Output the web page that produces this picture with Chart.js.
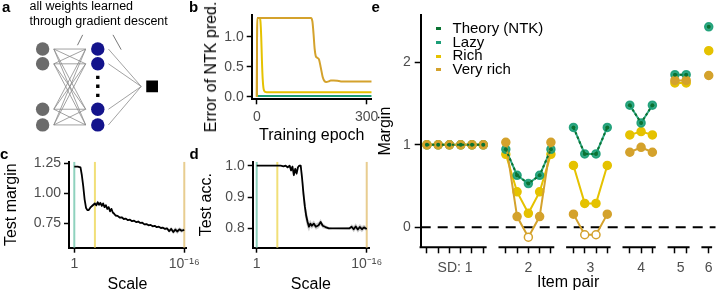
<!DOCTYPE html>
<html>
<head>
<meta charset="utf-8">
<script src="https://cdn.jsdelivr.net/npm/chart.js@4.4.1/dist/chart.umd.min.js"></script>
<style>
  body { margin: 0; background: #fff; }
  #fig { position: relative; width: 721px; height: 294px; overflow: hidden; font-family: 'Liberation Sans', Arial, sans-serif; }
  #fig canvas { position: absolute; }
  .lab { position: absolute; font-weight: bold; font-size: 15px; line-height: 15px; }
  .note { position: absolute; left: 29.5px; top: -1.5px; font-size: 12.5px; line-height: 15.7px; color: #000; white-space: nowrap; }
  .ytitle { position: absolute; font-size: 16px; line-height: 16px; white-space: nowrap; transform: translate(-50%, -50%) rotate(-90deg); }
  .leg { position: absolute; left: 452.5px; font-size: 15px; line-height: 13.8px; white-space: nowrap; }
  .mk { position: absolute; left: 436px; width: 4.5px; height: 3px; }
</style>
</head>
<body>
<div id="fig">
  <canvas id="pa" width="185" height="145" style="left:0;top:0"></canvas>
  <canvas id="pb" width="200" height="145" style="left:185px;top:0"></canvas>
  <canvas id="pc" width="210" height="149" style="left:0;top:145px"></canvas>
  <canvas id="pd" width="200" height="149" style="left:190px;top:145px"></canvas>
  <canvas id="pe" width="351" height="294" style="left:370px;top:0"></canvas>

  <div class="lab" style="left:2px;top:-1px">a</div>
  <div class="lab" style="left:189px;top:-1px">b</div>
  <div class="lab" style="left:0px;top:145.5px">c</div>
  <div class="lab" style="left:189.5px;top:145.5px">d</div>
  <div class="lab" style="left:371.5px;top:-1px">e</div>

  <div class="note">all weights learned<br>through gradient descent</div>
  <div class="ytitle" style="left:211px;top:67px">Error of NTK pred.</div>

  <div class="mk" id="mk0" style="top:27px"></div>
  <div class="mk" id="mk1" style="top:40.8px"></div>
  <div class="mk" id="mk2" style="top:54.6px"></div>
  <div class="mk" id="mk3" style="top:68.4px"></div>
  <div class="leg" id="lg0" style="top:20.8px"></div>
  <div class="leg" id="lg1" style="top:34.6px"></div>
  <div class="leg" id="lg2" style="top:48.4px"></div>
  <div class="leg" id="lg3" style="top:62.2px"></div>
</div>

<script>
// ---- data ----

// regimes (shared by b, c, d, e)
const regimeNames = ['Theory (NTK)', 'Lazy', 'Rich', 'Very rich'];
const regimeColors = ['#0a7232', '#1b9e77', '#e5c200', '#d4a22c'];
const regimePale = ['#8fd2be', '#f1df78', '#e8cd90']; // lazy, rich, very rich marker lines
const regimeScaleExp = [0, 3, 16]; // initial scale = 10^-exp

// b: error of NTK prediction during training
const epochLazy = [0, 314];
const errLazy = [0.01, 0.01];
const epochRich = [0, 1, 8, 10, 12, 14, 16, 18, 20, 23, 27, 314];
const errRich = [0, 1.31, 1.31, 1.25, 1.0, 0.6, 0.3, 0.15, 0.1, 0.08, 0.075, 0.075];
const epochVeryRich = [0, 1, 148, 152, 155, 158, 161, 165, 170, 175, 180, 185, 190, 196, 202, 210, 220, 230, 314];
const errVeryRich = [0, 1.31, 1.31, 1.25, 1.05, 0.8, 0.68, 0.65, 0.62, 0.48, 0.33, 0.26, 0.245, 0.255, 0.27, 0.27, 0.265, 0.255, 0.255];

// c: test margin vs scale (exponent of 10^-x)
const scaleExpC = [0, 0.5, 0.9, 1.1, 1.3, 1.5, 1.7, 1.9, 2.1, 2.4, 2.7, 3.0, 3.2, 3.4, 3.6, 3.8, 4.0, 4.2, 4.4, 4.6,
  4.8, 5.0, 5.2, 5.4, 5.6, 5.8, 6.0, 6.3, 6.6, 6.9, 7.2, 7.5, 7.8, 8.1, 8.4, 8.7, 9.0, 9.3, 9.6, 9.9,
  10.2, 10.5, 10.8, 11.1, 11.4, 11.7, 12.0, 12.3, 12.6, 12.9, 13.2, 13.5, 13.8, 14.1, 14.4, 14.7, 15.0, 15.3, 15.6, 16.0];
const marginC = [1.222, 1.222, 1.215, 1.15, 1.06, 0.95, 0.88, 0.86, 0.86, 0.885, 0.9, 0.915, 0.9, 0.925, 0.905, 0.92, 0.895, 0.915, 0.885, 0.9,
  0.87, 0.885, 0.85, 0.87, 0.84, 0.83, 0.815, 0.812, 0.798, 0.8, 0.786, 0.789, 0.776, 0.78, 0.768, 0.772, 0.76, 0.765, 0.753, 0.755,
  0.741, 0.744, 0.733, 0.737, 0.725, 0.729, 0.718, 0.722, 0.711, 0.714, 0.703, 0.707, 0.685, 0.703, 0.678, 0.698, 0.682, 0.7, 0.688, 0.695];
const spreadC = [0, 0, 0, 0, 0, 0, 0.004, 0.006, 0.008, 0.01, 0.012, 0.014, 0.012, 0.014, 0.012, 0.014, 0.012, 0.014, 0.012, 0.012,
  0.012, 0.012, 0.01, 0.01, 0.01, 0.008, 0.008, 0.006, 0.006, 0.006, 0.006, 0.006, 0.006, 0.006, 0.006, 0.006, 0.006, 0.006, 0.006, 0.006,
  0.006, 0.006, 0.006, 0.006, 0.006, 0.006, 0.006, 0.006, 0.008, 0.008, 0.01, 0.012, 0.016, 0.018, 0.02, 0.02, 0.02, 0.018, 0.016, 0.012];

// d: test accuracy vs scale
const scaleExpD = [0, 3.5, 3.9, 4.2, 4.5, 4.8, 5.0, 5.2, 5.4, 5.6, 5.8, 6.0, 6.2, 6.4, 6.6, 6.8, 7.0, 7.2, 7.4, 7.6,
  7.8, 8.0, 8.3, 8.6, 9.0, 9.3, 9.6, 10.0, 10.5, 11.0, 13.5, 13.8, 14.1, 14.4, 14.7, 15.0, 15.3, 15.6, 16.0];
const accD = [1.0, 1.0, 0.998, 1.0, 0.995, 1.0, 0.985, 0.997, 0.97, 0.99, 0.975, 0.995, 1.0, 1.0, 0.96, 0.91, 0.87, 0.84, 0.82, 0.805,
  0.815, 0.808, 0.815, 0.805, 0.81, 0.82, 0.808, 0.804, 0.8, 0.8, 0.8, 0.805, 0.797, 0.806, 0.796, 0.804, 0.797, 0.803, 0.798];
const spreadD = [0, 0, 0.002, 0.002, 0.004, 0.004, 0.006, 0.006, 0.008, 0.006, 0.006, 0.004, 0.002, 0.004, 0.02, 0.03, 0.03, 0.025, 0.02, 0.015,
  0.012, 0.01, 0.01, 0.01, 0.01, 0.01, 0.008, 0.006, 0.004, 0.002, 0.004, 0.008, 0.01, 0.01, 0.01, 0.01, 0.01, 0.008, 0.006];

// e: margin per item pair, grouped by SD
const groupLabels = ['SD: 1', '2', '3', '4', '5', '6'];
const groupSizes = [6, 5, 4, 3, 2, 1];
const marginTheory   = [1, 1, 1, 1, 1, 1,  0.945, 0.63, 0.53, 0.63, 0.945,  1.21, 0.89, 0.89, 1.21,  1.48, 1.265, 1.48,  1.85, 1.85,  2.43];
const marginLazy     = [1, 1, 1, 1, 1, 1,  0.945, 0.63, 0.53, 0.63, 0.945,  1.21, 0.89, 0.89, 1.21,  1.48, 1.265, 1.48,  1.85, 1.85,  2.43];
const marginRich     = [1, 1, 1, 1, 1, 1,  0.885, 0.43, 0.17, 0.43, 0.885,  0.75, 0.29, 0.29, 0.75,  1.12, 1.16, 1.12,  1.75, 1.75,  2.14];
const marginVeryRich = [1, 1, 1, 1, 1, 1,  1.03, 0.13, -0.12, 0.13, 1.03,  0.16, -0.09, -0.09, 0.16,  0.91, 0.97, 0.91,  1.78, 1.78,  1.84];

// ---- helpers ----
const FONT = "'Liberation Sans', Arial, sans-serif";
Chart.defaults.animation = false;
Chart.defaults.font.family = FONT;

function pts(xs, ys) { return xs.map((x, i) => ({ x: x, y: ys[i] })); }
function fromExp(d) { return Math.pow(10, -d); }

function axis(o) {
  return {
    type: o.type || 'linear', min: o.min, max: o.max, reverse: !!o.reverse, display: o.display !== false,
    afterBuildTicks: s => { s.ticks = o.ticks.map(v => ({ value: v })); },
    afterFit: s => {
      if (o.width != null) s.width = o.width;
      if (o.height != null) s.height = o.height;
      s.paddingLeft = s.paddingRight = s.paddingTop = s.paddingBottom = 0;
    },
    border: { display: o.border !== false, color: '#000', width: 2 },
    grid: { drawOnChartArea: false, drawTicks: true, tickLength: o.tickLen || 5, tickWidth: 1.5, tickColor: o.tickColor || '#000' },
    ticks: { color: '#4d4d4d', font: { family: FONT, size: 14 }, padding: o.pad != null ? o.pad : 3,
      autoSkip: false, maxRotation: 0, minRotation: 0, callback: o.fmt },
    title: { display: !!o.title, text: o.title, color: '#000', font: { family: FONT, size: 16 }, padding: o.titlePad || 0 }
  };
}

function baseOpts(pad, scales) {
  return {
    responsive: false, devicePixelRatio: 1, animation: false, events: [],
    layout: { padding: pad },
    plugins: { legend: { display: false }, tooltip: { enabled: false } },
    scales: scales
  };
}

function lineDs(data, color, width, extra) {
  return Object.assign({ data: data, borderColor: color, backgroundColor: color, borderWidth: width,
    pointRadius: 0, tension: 0, fill: false, borderJoinStyle: 'round' }, extra || {});
}

// ---- a: network diagram ----
const layerX = [37.7, 98.3, 158];
const nodeRows = [46, 62.7, 114, 131.7];
const dotRows = [78, 88, 98.3];
const outRow = 88.3;
(function () {
  const edges = [];
  nodeRows.forEach(r1 => nodeRows.forEach(r2 => {
    edges.push({ x: 50, y: r1 }, { x: 85, y: r2 }, { x: 85, y: null });
  }));
  nodeRows.forEach(r => { edges.push({ x: 110, y: r }, { x: 146, y: outRow }, { x: 146, y: null }); });
  const pointers = [{ x: 81.7, y: 30 }, { x: 76, y: 41.7 }, { x: 76, y: null }, { x: 115, y: 30 }, { x: 124, y: 46.7 }];
  new Chart(document.getElementById('pa'), {
    type: 'scatter',
    data: { datasets: [
      { data: nodeRows.map(r => ({ x: layerX[0], y: r })), pointRadius: 6.7, pointBackgroundColor: '#6b6b6b', pointBorderWidth: 0 },
      { data: nodeRows.map(r => ({ x: layerX[1], y: r })), pointRadius: 6.7, pointBackgroundColor: '#14148c', pointBorderWidth: 0 },
      { data: dotRows.map(r => ({ x: layerX[1], y: r })), pointStyle: 'rect', pointRadius: 2.4, pointBackgroundColor: '#000', pointBorderWidth: 0 },
      { data: [{ x: layerX[2], y: outRow }], pointStyle: 'rect', pointRadius: 8.3, pointBackgroundColor: '#000', pointBorderWidth: 0 },
      lineDs(edges, '#8a8a8a', 0.8, { showLine: true, spanGaps: false }),
      lineDs(pointers, '#555', 0.8, { showLine: true, spanGaps: false })
    ] },
    options: baseOpts(0, {
      x: { type: 'linear', display: false, min: 0, max: 185 },
      y: { type: 'linear', display: false, min: 0, max: 145, reverse: true }
    })
  });
})();

// ---- b: error of NTK prediction ----
new Chart(document.getElementById('pb'), {
  type: 'line',
  data: { datasets: [
    lineDs(pts(epochVeryRich, errVeryRich), regimeColors[3], 2, { cubicInterpolationMode: 'monotone' }),
    lineDs(pts(epochRich, errRich), regimeColors[2], 2, { cubicInterpolationMode: 'monotone' }),
    lineDs(pts(epochLazy, errLazy), regimeColors[1], 2)
  ] },
  options: baseOpts({ top: 15, right: 13.3, left: 0, bottom: 0 }, {
    x: axis({ min: -14, max: 314, ticks: [0, 300], fmt: v => String(v), height: 45.7, pad: 4, title: 'Training epoch', titlePad: 0 }),
    y: axis({ min: -0.0433, max: 1.362, ticks: [0, 0.5, 1], fmt: v => v.toFixed(1), width: 66.7, pad: 3 })
  })
});

// ---- c and d: metric vs initial scale ----
function scalePanel(id, exps, vals, spread, yMin, yMax, yTicks, yFmt, yTitle, pad, yWidth, titlePad) {
  const upper = exps.map((d, i) => ({ x: fromExp(d), y: vals[i] + spread[i] }));
  const lower = exps.map((d, i) => ({ x: fromExp(d), y: vals[i] - spread[i] }));
  const vlines = regimeScaleExp.map((d, i) => lineDs([{ x: fromExp(d), y: yMin }, { x: fromExp(d), y: yMax }], regimePale[i], 2));
  new Chart(document.getElementById(id), {
    type: 'line',
    data: { datasets: [
      lineDs(exps.map((d, i) => ({ x: fromExp(d), y: vals[i] })), '#000', 1.8),
      lineDs(upper, 'rgba(0,0,0,0)', 0, { fill: '+1', backgroundColor: 'rgba(160,160,160,0.55)' }),
      lineDs(lower, 'rgba(0,0,0,0)', 0)
    ].concat(vlines) },
    options: baseOpts(pad, {
      x: axis({ type: 'logarithmic', reverse: true, min: pad.xMin, max: pad.xMax, ticks: [1, 1e-16],
        fmt: v => (v > 0.5 ? '1' : '10\u207B\u00B9\u2076'), height: 46.3, pad: 3, title: 'Scale', titlePad: 0 }),
      y: axis({ min: yMin, max: yMax, ticks: yTicks, fmt: yFmt, width: yWidth, pad: 3, title: yTitle, titlePad: titlePad })
    })
  });
}
scalePanel('pc', scaleExpC, marginC, spreadC, 0.547, 1.263, [0.75, 1.0, 1.25], v => v.toFixed(2), 'Test margin',
  { top: 16.7, right: 24, left: 0, bottom: 0, xMin: Math.pow(10, -16.25), xMax: Math.pow(10, 0.77) }, 69, 2);
scalePanel('pd', scaleExpD, accD, spreadD, 0.738, 1.0128, [0.8, 0.9, 1.0], v => v.toFixed(1), 'Test acc.',
  { top: 16.7, right: 21, left: 0, bottom: 0, xMin: Math.pow(10, -16.33), xMax: Math.pow(10, 0.58) }, 62.7, 7);

// ---- e: margin per item pair ----
const itemX = [], groupCenters = [], axisSegs = [];
(function () {
  let p = 0;
  groupSizes.forEach(n => {
    const first = p;
    for (let k = 0; k < n; k++) itemX.push(p++);
    groupCenters.push((first + p - 1) / 2);
    axisSegs.push({ x: first - 0.65, y: -0.242 }, { x: p - 1 + 0.3, y: -0.242 }, { x: p - 1 + 0.3, y: null });
    p += 1;
  });
})();
function series(vals) {
  const out = [];
  let i = 0;
  groupSizes.forEach(n => {
    for (let k = 0; k < n; k++) { out.push({ x: itemX[i], y: vals[i] }); i++; }
    out.push({ x: itemX[i - 1] + 0.5, y: null });
  });
  return out;
}
function dotDs(vals, color, r, extra) {
  return Object.assign({
    data: series(vals), borderColor: color, borderWidth: 2, tension: 0, spanGaps: false, clip: false,
    pointRadius: r, pointBorderWidth: 1.5, pointBorderColor: color,
    pointBackgroundColor: ctx => (ctx.raw && ctx.raw.y < 0 ? '#fff' : color)
  }, extra || {});
}
const E_XMIN = -0.55, E_XMAX = 25.6, E_YMIN = -0.242, E_YMAX = 2.573;
const tickVals = Array.from(new Set(itemX.concat(groupCenters))).sort((a, b) => a - b);
new Chart(document.getElementById('pe'), {
  type: 'line',
  data: { datasets: [
    dotDs(marginTheory, regimeColors[0], 2, { borderDash: [2.5, 2.5], pointBorderWidth: 0 }),
    dotDs(marginVeryRich, regimeColors[3], 4),
    dotDs(marginLazy, 'rgba(27,158,119,0.9)', 4),
    dotDs(marginRich, regimeColors[2], 4),
    lineDs([{ x: E_XMIN, y: 0 }, { x: E_XMAX, y: 0 }], '#000', 2, { borderDash: [10, 7], clip: false }),
    lineDs(axisSegs, '#000', 2, { spanGaps: false, clip: false, borderCapStyle: 'butt' })
  ] },
  options: baseOpts({ top: 15, right: 0, left: 0, bottom: 0 }, {
    x: axis({ min: E_XMIN, max: E_XMAX, ticks: tickVals, border: false, tickLen: 6, pad: 6,
      tickColor: ctx => (ctx.tick && itemX.includes(ctx.tick.value) ? '#000' : 'rgba(0,0,0,0)'),
      fmt: v => { const g = groupCenters.indexOf(v); return g >= 0 ? groupLabels[g] : ''; },
      height: 46.7, title: 'Item pair', titlePad: 1.5 }),
    y: axis({ min: E_YMIN, max: E_YMAX, ticks: [0, 1, 2], fmt: v => String(v), width: 50.7, tickLen: 6, pad: 4,
      title: 'Margin', titlePad: 6 })
  })
});

// legend for e
regimeNames.forEach((name, i) => {
  document.getElementById('lg' + i).textContent = name;
  document.getElementById('mk' + i).style.background = regimeColors[i];
});
</script>
</body>
</html>
